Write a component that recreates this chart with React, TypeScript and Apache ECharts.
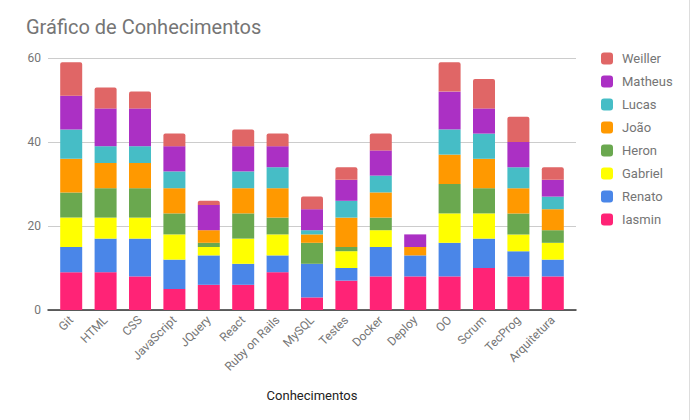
import React, { useEffect, useRef } from "react";
import * as echarts from "echarts";

const categories = ["Git", "HTML", "CSS", "JavaScript", "JQuery", "React", "Ruby on Rails", "MySQL", "Testes", "Docker", "Deploy", "OO", "Scrum", "TecProg", "Arquitetura"];

const iasmin = [9, 9, 8, 5, 6, 6, 9, 3, 7, 8, 8, 8, 10, 8, 8];
const renato = [6, 8, 9, 7, 7, 5, 4, 8, 3, 7, 5, 8, 7, 6, 4];
const gabriel = [7, 5, 5, 6, 2, 6, 5, 0, 4, 4, 0, 7, 6, 4, 4];
const heron = [6, 7, 7, 5, 1, 6, 4, 5, 1, 3, 0, 7, 6, 5, 3];
const joao = [8, 6, 6, 6, 3, 6, 7, 2, 7, 6, 2, 7, 7, 6, 5];
const lucas = [7, 4, 4, 4, 0, 4, 5, 1, 4, 4, 0, 6, 6, 5, 3];
const matheus = [8, 9, 9, 6, 6, 6, 5, 5, 5, 6, 3, 9, 6, 6, 4];
const weiller = [8, 5, 4, 3, 1, 4, 3, 3, 3, 4, 0, 7, 7, 6, 3];

const seriesNames = ["Iasmin", "Renato", "Gabriel", "Heron", "João", "Lucas", "Matheus", "Weiller"];
const seriesData = [iasmin, renato, gabriel, heron, joao, lucas, matheus, weiller];
const colors = ["#FF2376", "#4A86E8", "#FFFF00", "#6AA84F", "#FF9900", "#46BDC6", "#AB30C4", "#E06666"];
const yTicks = { min: 0, max: 60, interval: 20 };

export default function App() {
  const ref = useRef<HTMLDivElement>(null);
  useEffect(() => {
    if (!ref.current) return;
    const chart = echarts.init(ref.current, null, { renderer: "svg" });
    const font = "Roboto, 'Noto Sans', sans-serif";
    chart.setOption({
      animation: false,
      textStyle: { fontFamily: font },
      title: {
        text: "Gráfico de Conhecimentos",
        left: 21,
        top: 12,
        textStyle: { fontSize: 20, fontWeight: "normal", color: "#757575", fontFamily: font },
      },
      legend: {
        orient: "vertical",
        left: 596,
        top: 47,
        itemWidth: 12,
        itemHeight: 12,
        itemGap: 10,
        icon: "roundRect",
        data: seriesNames.slice().reverse(),
        textStyle: { fontSize: 13, color: "#757575", lineHeight: 12, padding: [0, 0, 0, 4], fontFamily: font },
      },
      grid: [
        { left: 48, right: 113, top: 58, bottom: 110 },
        { left: 54, right: 119, top: 58, bottom: 110 },
      ],
      xAxis: [
        {
          type: "category",
          gridIndex: 0,
          data: categories,
          axisLine: { show: true, lineStyle: { color: "#333", width: 1.5 } },
          axisTick: { show: false },
          axisLabel: { show: false },
        },
        {
          type: "category",
          gridIndex: 1,
          data: categories,
          axisLine: { show: false },
          axisTick: { show: false },
          axisLabel: { rotate: 45, color: "#757575", fontSize: 12, margin: 8, fontFamily: font },
          name: "Conhecimentos",
          nameLocation: "middle",
          nameGap: 79,
          nameTextStyle: { color: "#222", fontSize: 13, fontFamily: font },
        },
      ],
      yAxis: [
        {
          type: "value",
          gridIndex: 0,
          ...yTicks,
          axisLine: { show: false },
          axisTick: { show: false },
          axisLabel: { color: "#757575", fontSize: 12, margin: 7, fontFamily: font },
          splitLine: { lineStyle: { color: "#ccc", width: 1 } },
        },
        {
          type: "value",
          gridIndex: 1,
          ...yTicks,
          show: false,
          splitLine: { show: false },
        },
      ],
      series: seriesNames.map((name, i) => ({
        name,
        type: "bar",
        stack: "total",
        xAxisIndex: 1,
        yAxisIndex: 1,
        barWidth: 22,
        data: seriesData[i],
        itemStyle: { color: colors[i], borderRadius: i === seriesNames.length - 1 ? [2, 2, 0, 0] : 0 },
      })),
    });
    return () => chart.dispose();
  }, []);
  return (
    <div
      ref={ref}
      style={{ position: "fixed", left: 0, top: 0, width: 690, height: 420, background: "#fff", borderRight: "1px solid #ddd", boxSizing: "border-box" }}
    />
  );
}
